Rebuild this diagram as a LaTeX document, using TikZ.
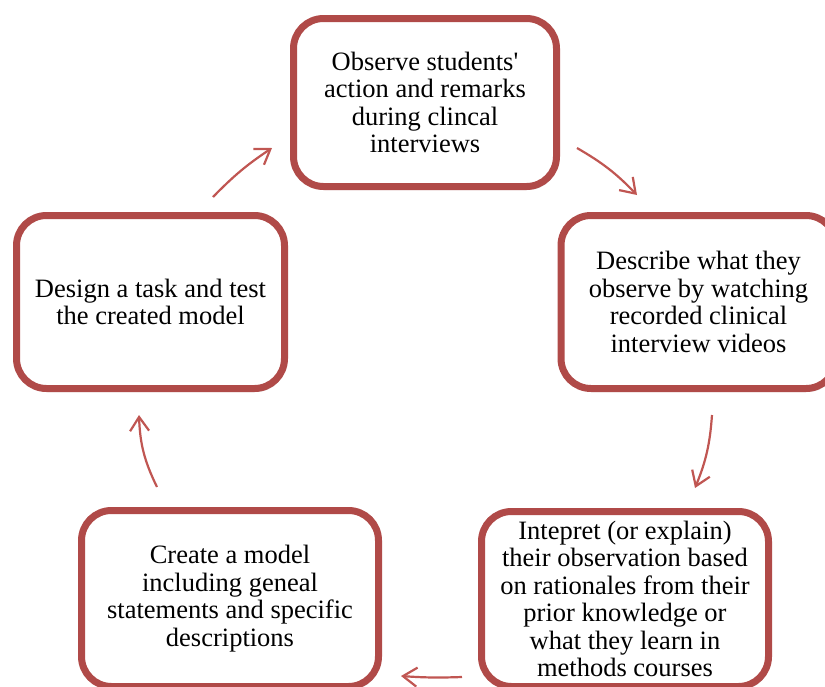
\documentclass[tikz,border=0pt]{standalone}
\usepackage{fontspec}
\setmainfont{Liberation Serif}
\usetikzlibrary{arrows.meta,shadows}
\definecolor{boxred}{RGB}{176,74,72}
\definecolor{arrowred}{RGB}{192,86,82}
\begin{document}
\begin{tikzpicture}[x=1pt,y=-1pt,
  stepbox/.style={draw=boxred, line width=7pt, fill=white, rounded corners=30pt,
    align=center, inner sep=2pt, font=\fontsize{26.5}{27.5}\selectfont,
    drop shadow={shadow xshift=1.5pt, shadow yshift=-3.5pt, opacity=0.22}},
  flow/.style={draw=arrowred, line width=2.2pt,
    -{Straight Barb[length=14pt,width=19pt]}}]

\useasboundingbox (0,0) rectangle (825,686);
\clip (0,0) rectangle (825,686);

% the five stages of the cycle
\node[stepbox, minimum width=263pt, minimum height=168pt] (obs) at (425,102.5)
  {Observe students\textquotesingle\\action and remarks\\during clincal\\interviews};
\node[stepbox, minimum width=275pt, minimum height=173pt] (desc) at (698.5,302)
  {Describe what they\\observe by watching\\recorded clinical\\interview videos};
\node[stepbox, minimum width=287pt, minimum height=175pt] (interp) at (625,599)
  {Intepret (or explain)\\their observation based\\on rationales from their\\prior knowledge or\\what they learn in\\methods courses};
\node[stepbox, minimum width=297pt, minimum height=176pt] (model) at (230,598.5)
  {Create a model\\including geneal\\statements and specific\\descriptions};
\node[stepbox, minimum width=268pt, minimum height=173pt] (design) at (150.5,302)
  {Design a task and test\\the created model};

% free-floating arrow ends between the stages
\coordinate (a1s) at (577,148);  \coordinate (a1e) at (637,195);
\coordinate (a2s) at (712,415);  \coordinate (a2e) at (695,488);
\coordinate (a3s) at (462,677);  \coordinate (a3e) at (401,676);
\coordinate (a4s) at (157,487);  \coordinate (a4e) at (139,415);
\coordinate (a5s) at (213,197);  \coordinate (a5e) at (272,148);

\draw[flow] (a1s) to[bend left=8] (a1e);
\draw[flow] (a2s) to[bend left=9] (a2e);
\draw[flow] (a3s) to[bend left=3] (a3e);
\draw[flow] (a4s) to[bend left=12] (a4e);
\draw[flow] (a5s) to[bend left=6] (a5e);
\end{tikzpicture}
\end{document}
